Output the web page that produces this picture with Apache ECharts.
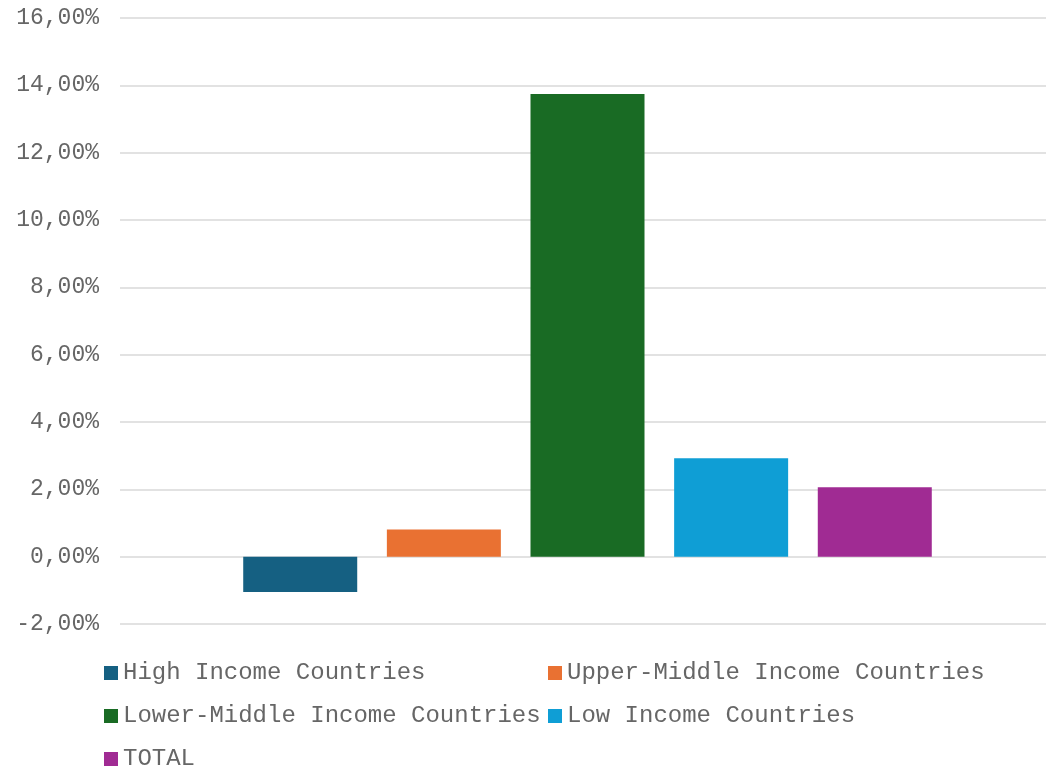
<!DOCTYPE html>
<html>
<head>
<meta charset="utf-8">
<script src="https://cdn.jsdelivr.net/npm/echarts@6/dist/echarts.min.js"></script>
<style>
  html, body { margin: 0; padding: 0; background: #fff; }
  #chart { width: 1046px; height: 770px; }
</style>
</head>
<body>
<div id="chart"></div>
<script>
// data
const categories = [""];
const seriesNames = [
  "High Income Countries",
  "Upper-Middle Income Countries",
  "Lower-Middle Income Countries",
  "Low Income Countries",
  "TOTAL"
];
const seriesValues = [-1.05, 0.81, 13.74, 2.92, 2.06];
const seriesColors = ["#156082", "#E97132", "#196B24", "#0F9ED5", "#A02B93"];
const yMin = -2;
const yMax = 16;
const yStep = 2;

const fontFamily = "'Liberation Mono', 'DejaVu Sans Mono', monospace";
const textColor = "#666666";

const chart = echarts.init(document.getElementById("chart"));

// legend in two columns, like the Excel one
const legendText = {
  color: textColor,
  fontFamily: fontFamily,
  fontSize: 24,
  lineHeight: 24,
};
const legendCommon = {
  orient: "vertical",
  top: 661,
  height: 130, // keep all three rows in one column
  itemWidth: 14,
  itemHeight: 14,
  itemGap: 19,
  icon: "rect",
  selectedMode: false,
  textStyle: legendText,
  padding: 0,
};

chart.setOption({
  animation: false,
  grid: {
    left: 120,
    right: -9, // plot area runs a bit past the right edge in the original
    top: 18,
    bottom: 146,
    containLabel: false,
    outerBoundsMode: "none",
  },
  legend: [
    Object.assign({}, legendCommon, {
      left: 104,
      data: [seriesNames[0], seriesNames[2], seriesNames[4]],
    }),
    Object.assign({}, legendCommon, {
      left: 548,
      data: [seriesNames[1], seriesNames[3]],
    }),
  ],
  xAxis: {
    type: "category",
    data: categories,
    axisLine: { show: false },
    axisTick: { show: false },
    axisLabel: { show: false },
  },
  yAxis: {
    type: "value",
    min: yMin,
    max: yMax,
    interval: yStep,
    axisLine: { show: false },
    axisTick: { show: false },
    axisLabel: {
      color: textColor,
      fontFamily: fontFamily,
      fontSize: 23,
      margin: 21,
      formatter: (v) => v.toFixed(2).replace(".", ",") + "%",
    },
    splitLine: {
      lineStyle: { color: "#D9D9D9", width: 1.5 },
    },
  },
  series: seriesNames.map((name, i) => ({
    name: name,
    type: "bar",
    data: [seriesValues[i]],
    barWidth: 114,
    barGap: "26%",
    itemStyle: { color: seriesColors[i] },
  })),
});
</script>
</body>
</html>
